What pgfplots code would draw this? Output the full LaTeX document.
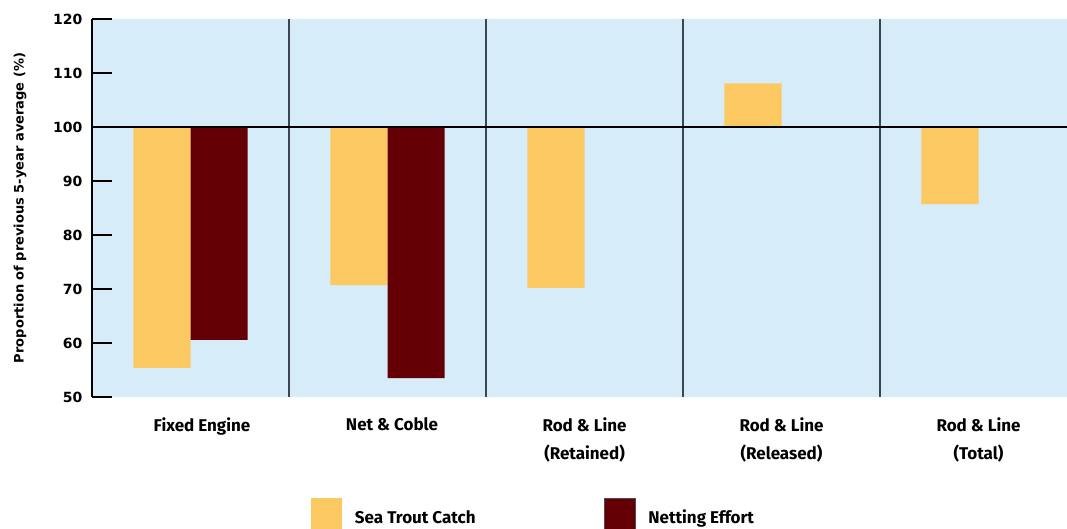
\documentclass[border=0pt]{standalone}
\usepackage{pgfplots}
\pgfplotsset{compat=1.18}
\usepackage{fontspec}
\setmainfont{Fira Sans}
\newfontfamily\dejavu{DejaVu Sans}
\definecolor{trout}{HTML}{FBC862}
\definecolor{netting}{HTML}{640005}
\definecolor{panel}{HTML}{D6ECF9}
\definecolor{sepline}{HTML}{3A4650}

\begin{document}
\begin{tikzpicture}
\begin{axis}[
  at={(0pt,0pt)}, anchor=south west,
  width=975pt, height=378pt, scale only axis,
  xmin=-0.5, xmax=4.449, ymin=-50, ymax=20,
  y filter/.expression={y-100},
  ybar, bar width=0.29,
  axis background/.style={fill=panel},
  axis x line*=bottom, axis y line*=left,
  x axis line style={draw=none},
  y axis line style={line width=2.6pt,-},
  xtick={0,...,4},
  xticklabels={\hspace*{23pt}Fixed Engine, \hspace*{9pt}Net \& Coble, Rod \& Line\\(Retained), Rod \& Line\\(Released), Rod \& Line\\(Total)},
  x tick style={draw=none},
  xticklabel style={align=center, font=\bfseries\fontsize{17}{28}\selectfont, yshift=-17pt},
  ytick={-50,-40,...,20}, yticklabels={50,60,70,80,90,100,110,120},
  yticklabel style={font=\dejavu\bfseries\fontsize{14}{17}\selectfont, xshift=-6pt},
  tick align=inside, major tick length=20pt,
  y tick style={line width=1.6pt, black},
  ylabel={Proportion of previous 5-year average (\%)},
  ylabel style={at={(axis description cs:-0.0738,0.5)}, anchor=center, font=\dejavu\bfseries\fontsize{13}{16}\selectfont},
  legend columns=2,
  legend style={at={(axis description cs:0.2246,-0.2672)}, anchor=north west, draw=none, fill=none,
    inner sep=0pt, outer sep=0pt, font=\bfseries\fontsize{17}{20}\selectfont,
    nodes={inner sep=0pt},
    /tikz/every odd column/.append style={column sep=13pt},
    /tikz/every even column/.append style={column sep=128pt}},
]
\addplot[fill=trout, draw=none, bar shift=-0.145,
  legend image code/.code={\fill[trout] (0pt,-12pt) rectangle (31pt,19pt);}]
  coordinates {(0,55.4) (1,70.7) (2,70.2) (3,108.1) (4,85.7)};
\addlegendentry{Sea Trout Catch}
\addplot[fill=netting, draw=none, bar shift=0.145,
  legend image code/.code={\fill[netting, draw=black!70, line width=0.8pt] (0pt,-12pt) rectangle (31pt,19pt);}]
  coordinates {(0,60.6) (1,53.5)};
\addlegendentry{Netting Effort}
\pgfplotsinvokeforeach{0.5,1.5,2.5,3.5}{
  \draw[sepline, line width=1.4pt] ({axis cs:#1,0}|-{rel axis cs:0,0}) -- ({axis cs:#1,0}|-{rel axis cs:0,1});
}
\draw[black, line width=2.6pt] (rel axis cs:0,0.714286) -- (rel axis cs:1,0.714286);
\end{axis}
\pgfresetboundingbox
\useasboundingbox (-92pt,-132pt) rectangle (975pt,397pt);
\end{tikzpicture}
\end{document}
